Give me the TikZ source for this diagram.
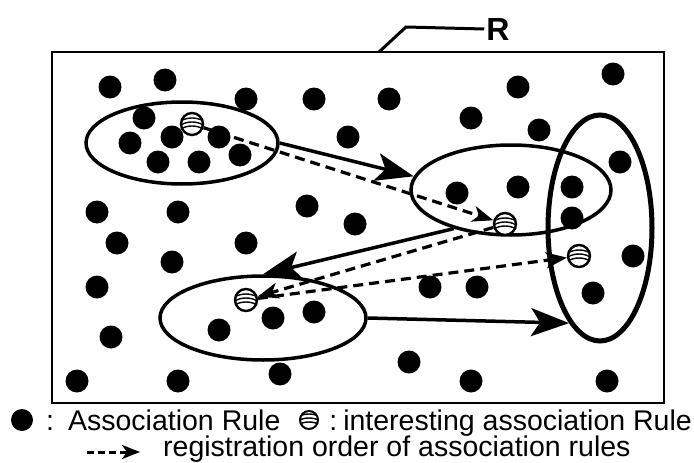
\documentclass[tikz,border=0pt]{standalone}
\usepackage{fontspec}
\setmainfont{Liberation Sans}
\usetikzlibrary{shapes.geometric,arrows.meta}

\begin{document}
\begin{tikzpicture}[x=1pt,y=-1pt,
        dot/.style={circle,fill=black,minimum size=23pt,inner sep=0pt},
        hot/.style={circle,draw,line width=2.4pt,fill=white,minimum size=22pt,inner sep=0pt,
                    path picture={\foreach \dy in {-5,-1,3}
                      \draw[line width=1.4pt] ([xshift=-11pt,yshift=\dy pt]path picture bounding box.center)
                        .. controls +(6pt,4pt) and +(-6pt,4pt) .. ++(22pt,0pt);}},
        group/.style={ellipse,draw,line width=3.5pt,inner sep=0pt},
        flow/.style={line width=3.5pt,-{Stealth[length=38pt,width=28pt,inset=9pt]}},
        order/.style={line width=3.2pt,dash pattern=on 10pt off 6pt,
                      -{Stealth[length=21pt,width=16pt,inset=6pt]}},
        txt/.style={font=\fontsize{28.5}{30}\selectfont,inner sep=0pt}]
      \useasboundingbox (0,0) rectangle (694,463);
      \node[draw,line width=2pt,minimum width=612pt,minimum height=351pt,inner sep=0pt] (frame) at (358,227.5) {};
      \node[font=\fontsize{32}{32}\selectfont\bfseries,inner sep=2pt] (R) at (498,29) {R};
      \coordinate (lead) at (379,52);
      \draw[line width=3pt] (lead) -- (406,27) -- (R.west);
      % association rules
      \foreach \x/\y [count=\k] in {110/87,165/80,246/99,314/99,389/99,518/87,613/74,
          144/118,471/118,539/130,348/137,130/143,172/137,219/137,
          158/162,199/162,240/155,620/162,457/193,518/187,572/187,
          97/212,178/212,307/206,572/218,355/224,117/243,246/243,172/262,
          97/287,430/287,477/287,593/293,633/256,111/337,219/330,273/318,314/312,
          77/381,178/381,280/374,409/362,471/381,607/381}
        \node[dot] (d\k) at (\x,\y) {};
      % groups
      \node[group,minimum width=192pt,minimum height=82pt] (e1) at (182,143) {};
      \node[group,minimum width=200pt,minimum height=90pt] (e2) at (511,190) {};
      \node[group,line width=5pt,minimum width=104pt,minimum height=226pt] (e3) at (600,228) {};
      \node[group,minimum width=206pt,minimum height=84pt] (e4) at (263,318) {};
      % interesting rules
      \node[hot] (i1) at (192,124) {};
      \node[hot] (i2) at (505,224) {};
      \node[hot] (i3) at (579,256) {};
      \node[hot] (i4) at (246,300) {};
      \draw[flow] (e1.east) -- (e2.172);
      \draw[flow] (e2.214) -- (e4.north);
      \draw[flow] (e4.east) -- (e3.252);
      \draw[order] (i1) -- (i2);
      \draw[order] (i2) -- (i4);
      \draw[order] (i4) -- (i3);
      % legend
      \node[dot,minimum size=22pt] (k1) at (22,420) {};
      \node[txt,anchor=base west] (k1t) at (46,430) {:\hspace{14pt}Association Rule};
      \node[hot,minimum size=18pt,line width=2pt] (k2) at (309,420) {};
      \node[txt,anchor=base east] (k2t) at (692,430) {:\hspace{6pt}interesting association Rule};
      \coordinate (k3a) at (87,452);
      \coordinate (k3b) at (140,452);
      \draw[order,line width=3pt,dash pattern=on 7pt off 4pt,
            -{Stealth[length=18pt,width=14pt,inset=5pt]}] (k3a) -- (k3b);
      \node[txt,anchor=base west] (k3t) at (163,456) {registration order of association rules};
    \end{tikzpicture}
\end{document}
